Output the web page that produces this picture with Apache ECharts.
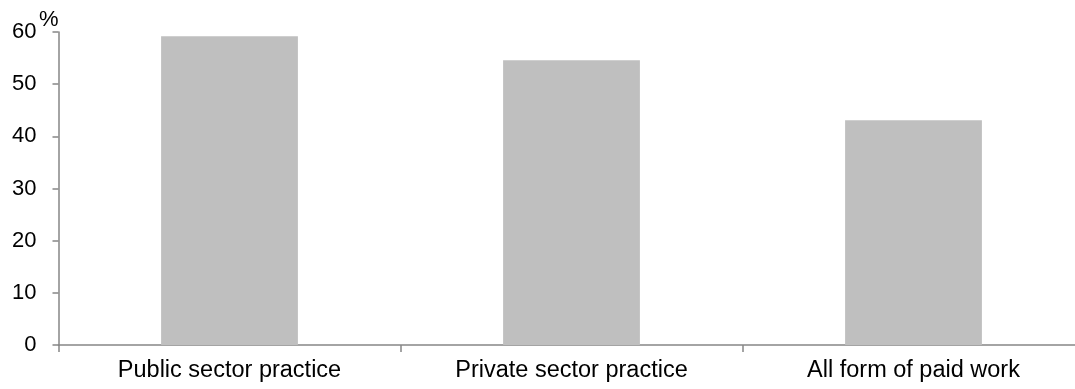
<!DOCTYPE html>
<html>
<head>
<meta charset="utf-8">
<style>
  html, body { margin: 0; padding: 0; background: #ffffff; }
  #chart { width: 1075px; height: 389px; }
</style>
<script src="https://cdn.jsdelivr.net/npm/echarts@6/dist/echarts.min.js"></script>
</head>
<body>
<div id="chart"></div>
<script>
// Share of respondents by type of work (%)
const categories = ['Public sector practice', 'Private sector practice', 'All form of paid work'];
const shareValues = [59.2, 54.6, 43.1];
const yTicks = { min: 0, max: 60, interval: 10 };

const axisGrey = '#868686';
const font = 'Liberation Sans, Arial, sans-serif';

const chart = echarts.init(document.getElementById('chart'), null, { renderer: 'canvas' });
chart.setOption({
  animation: false,
  backgroundColor: '#ffffff',
  // the plot runs a little past the right edge of the canvas
  grid: { left: 58.5, top: 32, height: 313, width: 1026, containLabel: false, outerBoundsMode: 'none' },
  xAxis: {
    type: 'category',
    data: categories,
    axisLine: { lineStyle: { color: axisGrey, width: 1.5 } },
    axisTick: { show: true, length: 7, lineStyle: { color: axisGrey, width: 1.5 } },
    axisLabel: { color: '#000000', fontFamily: font, fontSize: 23.5, margin: 14, interval: 0 }
  },
  yAxis: {
    type: 'value',
    min: yTicks.min,
    max: yTicks.max,
    interval: yTicks.interval,
    name: '%',
    nameLocation: 'end',
    nameGap: 1,
    nameMoveOverlap: false,
    nameTextStyle: { color: '#000000', fontFamily: font, fontSize: 22, align: 'right', verticalAlign: 'bottom' },
    axisLine: { show: true, lineStyle: { color: axisGrey, width: 1.5 } },
    axisTick: { show: true, length: 6, lineStyle: { color: axisGrey, width: 1.5 } },
    splitLine: { show: false },
    axisLabel: { color: '#000000', fontFamily: font, fontSize: 22, margin: 22 }
  },
  series: [{
    type: 'bar',
    data: shareValues,
    barWidth: '40%',
    itemStyle: { color: '#BFBFBF' }
  }]
});
</script>
</body>
</html>
